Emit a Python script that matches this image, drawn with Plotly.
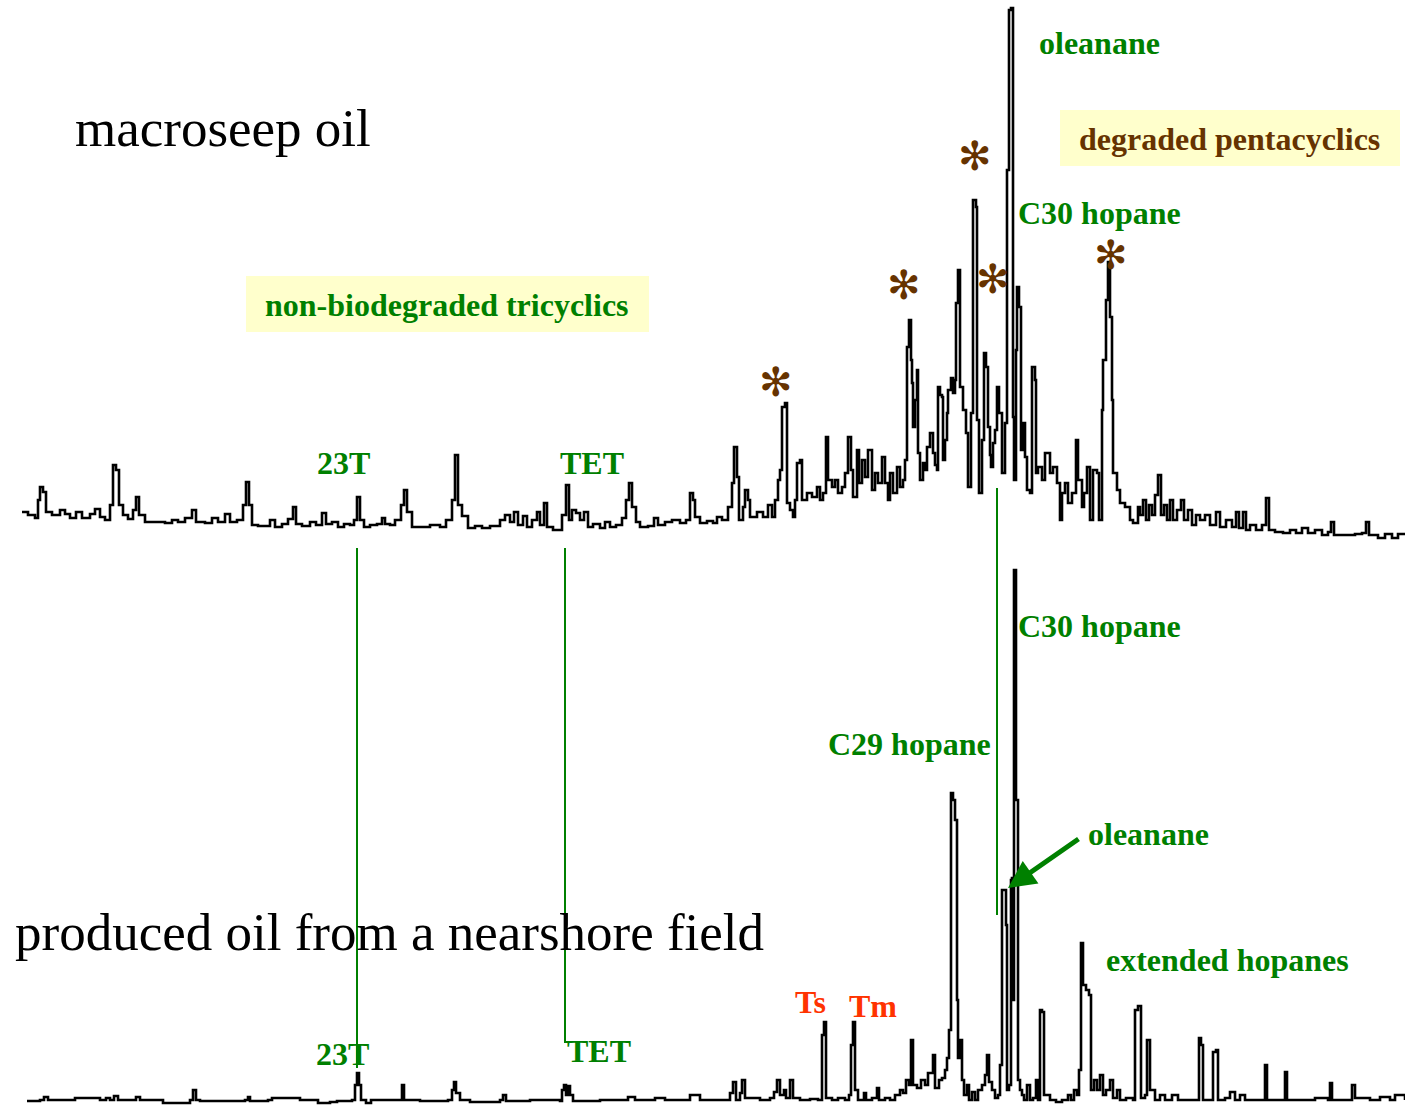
import plotly.graph_objects as go

# ---------------- data: retention positions and abundances ----------------
# macroseep oil (m/z 191 trace), abundance above its own baseline reference
seep_rt = [22, 28, 35, 38, 40, 43, 46, 52, 60, 65, 70, 76, 82, 90, 95, 100, 105, 110, 113, 116,
           119, 123, 128, 133, 136, 139, 145, 155, 165, 172, 178, 185, 192, 196, 205, 212, 218, 225, 230, 237,
           243, 246, 249, 252, 258, 264, 270, 275, 282, 288, 293, 296, 302, 310, 316, 322, 326, 332, 338, 344,
           350, 354, 357, 360, 364, 370, 377, 382, 385, 390, 395, 401, 404, 407, 412, 420, 430, 440, 446, 452,
           455, 458, 462, 468, 475, 482, 490, 500, 505, 510, 514, 518, 523, 527, 532, 537, 540, 544, 547, 553,
           558, 562, 566, 569, 572, 576, 580, 584, 588, 593, 600, 605, 610, 616, 622, 626, 629, 632, 636, 640,
           648, 654, 658, 665, 672,
           680, 686, 690, 693, 695, 700, 707, 713, 717, 722, 728, 732, 734, 737, 739, 743, 745, 748, 750, 757,
           763, 768, 772, 775, 778, 780, 782, 785, 787, 790, 793, 795, 797, 800, 802, 807, 812, 817, 820, 823,
           826, 828, 832, 835, 838, 842, 845, 848, 851, 853, 857, 859, 862, 865, 868, 872, 875, 878, 882, 885,
           888, 890, 893, 897, 900, 903, 905,
           907, 909, 911, 912, 913, 915, 917, 918, 920, 923, 925, 927, 930, 933, 935, 937, 938, 940, 942, 943,
           945, 947, 948, 951, 953, 955, 956, 958, 960, 963, 966, 968, 971, 973, 976, 977, 979, 982, 984, 986,
           988, 990, 991, 993, 995, 997, 999, 1002, 1005, 1007, 1009, 1011, 1013, 1014, 1016, 1017, 1019, 1021, 1023, 1025,
           1027, 1030, 1032, 1035, 1036, 1038, 1042, 1045, 1048, 1050, 1053, 1057, 1060, 1062, 1065, 1068, 1072, 1076, 1078, 1082,
           1084, 1087, 1090, 1093, 1097, 1099, 1102, 1103, 1106, 1108, 1110, 1112, 1113, 1117, 1120, 1125, 1130, 1133, 1138,
           1140, 1143, 1146, 1149, 1152, 1155, 1158, 1161, 1164, 1167, 1170, 1173, 1177, 1181, 1184, 1188, 1192, 1196, 1200, 1205,
           1210, 1216, 1220, 1226, 1232, 1236, 1239, 1243, 1246, 1250, 1256, 1262, 1266, 1269, 1275, 1283, 1290, 1296, 1302, 1308,
           1315, 1322, 1328, 1331, 1334, 1340, 1348, 1355, 1362, 1366, 1369, 1378, 1385, 1392, 1398, 1405]
seep_abund = [33, 30, 27, 45, 58, 53, 33, 30, 35, 31, 27, 33, 27, 31, 36, 28, 25, 40, 80, 75,
              40, 30, 26, 35, 48, 30, 23, 23, 22, 25, 23, 27, 35, 23, 22, 27, 23, 31, 23, 25,
              40, 63, 40, 20, 19, 19, 25, 18, 21, 26, 38, 21, 19, 23, 20, 32, 21, 23, 18, 21,
              20, 25, 48, 25, 18, 20, 21, 27, 21, 20, 25, 40, 55, 33, 18, 18, 20, 18, 25, 45,
              90, 40, 29, 17, 19, 17, 19, 25, 30, 23, 33, 20, 29, 18, 25, 33, 20, 42, 18, 15,
              15, 30, 60, 25, 35, 32, 25, 33, 18, 21, 17, 23, 18, 20, 27, 45, 62, 38, 23, 18,
              19, 27, 20, 23, 25,
              22, 25, 52, 45, 28, 22, 24, 22, 28, 25, 38, 62, 98, 68, 25, 38, 55, 45, 28, 33,
              28, 40, 28, 45, 65, 75, 138, 142, 42, 35, 28, 45, 82, 85, 45, 52, 48, 58, 45, 52,
              108, 65, 58, 65, 52, 58, 72, 108, 75, 48, 95, 62, 85, 68, 95, 55, 72, 62, 88, 62,
              45, 72, 52, 78, 58, 65, 85,
              198, 225, 185, 162, 118, 145, 175, 92, 65, 82, 75, 98, 112, 92, 80, 75, 158, 150, 148, 85,
              105, 132, 155, 167, 152, 165, 242, 275, 158, 135, 112, 58, 132, 345, 338, 125, 52, 105, 192, 178,
              118, 90, 78, 102, 115, 158, 132, 72, 122, 375, 535, 537, 128, 65, 195, 258, 238, 95, 122, 88,
              55, 52, 178, 165, 72, 78, 65, 92, 92, 72, 78, 62, 25, 52, 62, 42, 52, 105, 65, 38,
              52, 78, 25, 75, 72, 25, 135, 185, 245, 283, 228, 145, 72, 55, 42, 38, 25, 22, 38,
              30, 45, 25, 40, 30, 50, 70, 30, 40, 25, 45, 25, 35, 45, 25, 35, 20, 30, 25, 30,
              20, 33, 18, 25, 18, 33, 17, 33, 15, 20, 15, 20, 47, 15, 13, 12, 15, 12, 17, 12,
              15, 10, 13, 23, 10, 10, 10, 11, 12, 23, 10, 7, 11, 7, 11, 12]

# produced oil from a nearshore field (m/z 191 trace)
field_rt = [27, 40, 44, 48, 70, 75, 100, 106, 110, 114, 118, 132, 136, 140, 160, 163, 190, 193, 196, 200,
            245, 248, 250, 268, 272, 300, 315, 318, 330, 337, 352, 355, 357, 359, 361, 366, 371, 400, 402, 404,
            420, 448, 452, 454, 456, 460, 470, 500, 503, 506, 530, 560, 562, 564, 566, 568, 570, 573, 600, 625,
            628, 635, 650, 655, 665, 688, 690, 700, 728, 730, 733, 736, 740, 742, 745, 760, 770, 774, 777, 780,
            784, 786, 790, 793, 800, 810, 818, 822, 824, 826, 832, 838, 845, 849, 851, 853, 855, 858, 864, 866,
            872, 877, 879, 885, 890, 895, 900, 903, 906, 909, 911, 913, 917, 921, 925, 928, 933, 935, 939, 942,
            945, 947, 949, 951, 953, 955, 957, 958, 960, 962, 964, 967, 969, 972, 975, 978, 982, 985, 987, 989,
            992, 995, 998, 1000, 1002, 1004, 1006, 1007, 1009, 1011, 1012, 1013, 1014, 1016, 1018, 1020, 1022, 1024, 1027, 1030,
            1033, 1036, 1038, 1040, 1042, 1044, 1050, 1056, 1062, 1068, 1071, 1074, 1077, 1079, 1081, 1083, 1086, 1089, 1091, 1094,
            1097, 1100, 1103, 1106, 1110, 1113, 1117, 1120, 1126, 1133, 1135, 1138, 1141, 1145, 1147, 1150, 1155, 1160, 1165, 1172,
            1178, 1198, 1199, 1201, 1203, 1210, 1213, 1216, 1218, 1225, 1230, 1235, 1240, 1245, 1263, 1265, 1267, 1275, 1283, 1285,
            1287, 1310, 1315, 1328, 1330, 1332, 1350, 1352, 1355, 1370, 1380, 1390, 1395, 1405]
field_abund = [7, 8, 11, 8, 8, 10, 8, 10, 8, 12, 8, 8, 11, 8, 8, 5, 8, 18, 8, 7,
               8, 11, 7, 8, 10, 8, 8, 5, 6, 7, 8, 23, 35, 23, 8, 5, 8, 8, 23, 8,
               7, 8, 18, 26, 15, 8, 6, 8, 13, 7, 8, 7, 18, 23, 13, 22, 13, 7, 8, 8,
               11, 8, 8, 10, 8, 8, 13, 8, 8, 15, 26, 8, 15, 28, 10, 8, 10, 16, 28, 13,
               18, 10, 28, 10, 8, 9, 8, 73, 86, 10, 8, 10, 8, 13, 63, 86, 18, 8, 15, 8,
               10, 20, 8, 10, 8, 13, 18, 15, 28, 23, 68, 23, 20, 28, 23, 35, 53, 20, 28, 30,
               38, 50, 78, 315, 308, 288, 108, 50, 68, 28, 13, 23, 8, 16, 8, 18, 23, 33, 53, 26,
               18, 10, 13, 43, 218, 218, 183, 18, 23, 228, 230, 108, 538, 308, 28, 18, 13, 8, 23, 8,
               10, 28, 8, 98, 96, 13, 8, 6, 8, 13, 8, 18, 13, 38, 165, 123, 118, 113, 18, 28,
               18, 33, 13, 18, 28, 10, 18, 8, 10, 8, 98, 102, 10, 13, 68, 18, 8, 13, 8, 13,
               8, 8, 70, 63, 8, 8, 56, 58, 8, 10, 16, 8, 13, 8, 8, 43, 8, 8, 8, 36,
               8, 8, 10, 8, 25, 8, 8, 23, 10, 8, 11, 8, 13, 8]

# compound correlation markers (retention positions)
corr_names = ["23T", "TET", "C30 hopane"]
corr_rt = [357, 565, 997]
star_rt = [776, 904, 975, 993, 1111]   # degraded pentacyclics (asterisks)

# ---------------- layout constants ----------------
SEEP_BASE = 545     # vertical offset of upper trace
FIELD_BASE = 1108   # vertical offset of lower trace
GREEN = "#008000"
BROWN = "#663300"
RED = "#FF3300"
YELLOW = "#FFFFCC"
SERIF = "Liberation Serif, Times New Roman, serif"

fig = go.Figure()
fig.add_trace(go.Scatter(x=seep_rt, y=[SEEP_BASE - a for a in seep_abund], mode="lines",
                         line=dict(color="black", width=2.6, shape="hv"), hoverinfo="skip"))
fig.add_trace(go.Scatter(x=field_rt, y=[FIELD_BASE - a for a in field_abund], mode="lines",
                         line=dict(color="black", width=2.6, shape="hv"), hoverinfo="skip"))

shapes = []
# yellow boxes
shapes.append(dict(type="rect", xref="x", yref="y", x0=246, x1=649, y0=276, y1=332,
                   fillcolor=YELLOW, line=dict(width=0), layer="below"))
shapes.append(dict(type="rect", xref="x", yref="y", x0=1060, x1=1400, y0=110, y1=166,
                   fillcolor=YELLOW, line=dict(width=0), layer="below"))
# correlation lines
shapes.append(dict(type="line", xref="x", yref="y", x0=corr_rt[0], x1=corr_rt[0], y0=548, y1=1068,
                   line=dict(color=GREEN, width=2)))
shapes.append(dict(type="path", xref="x", yref="y",
                   path=f"M {corr_rt[1]} 548 L {corr_rt[1]} 1042 L {corr_rt[1] + 6} 1042",
                   line=dict(color=GREEN, width=2)))
shapes.append(dict(type="line", xref="x", yref="y", x0=corr_rt[2], x1=corr_rt[2], y0=488, y1=915,
                   line=dict(color=GREEN, width=2)))

ann = []


def label(text, x, y, color, size=32, xanchor="left", bold=True, family=SERIF):
    ann.append(dict(text=(f"<b>{text}</b>" if bold else text), x=x, y=y, xref="x", yref="y",
                    xanchor=xanchor, yanchor="middle", showarrow=False,
                    font=dict(family=family, size=size, color=color)))


# sample names
label("macroseep oil", 73, 128, "black", size=53, bold=False)
label("produced oil from a nearshore field", 13, 932, "black", size=53, bold=False)
# upper annotations
label("oleanane", 1037, 43, GREEN)
label("degraded pentacyclics", 1229, 139, BROWN, xanchor="center")
label("C30 hopane", 1016, 213, GREEN)
label("non-biodegraded tricyclics", 447, 305, GREEN, xanchor="center")
label("23T", 343, 463, GREEN, xanchor="center")
label("TET", 592, 463, GREEN, xanchor="center")
# lower annotations
label("C30 hopane", 1016, 626, GREEN)
label("C29 hopane", 826, 744, GREEN)
label("oleanane", 1086, 834, GREEN)
label("extended hopanes", 1104, 960, GREEN)
label("Ts", 793, 1002, RED)
label("Tm", 847, 1006, RED)
label("23T", 342, 1054, GREEN, xanchor="center")
label("TET", 565, 1051, GREEN)
# asterisks over degraded peaks
star_y = [382, 285, 156, 279, 255]
for sx, sy in zip(star_rt, star_y):
    ann.append(dict(text="\u273B", x=sx, y=sy, xref="x", yref="y", showarrow=False,
                    xanchor="center", yanchor="middle",
                    font=dict(family="DejaVu Sans", size=40, color=BROWN)))
# arrow to oleanane in produced oil
ann.append(dict(text="", x=1008, y=888, ax=1080, ay=838, xref="x", yref="y", axref="x", ayref="y",
                showarrow=True, arrowhead=2, arrowsize=1.1, arrowwidth=5, arrowcolor=GREEN))

fig.update_layout(
    width=1405, height=1108,
    margin=dict(l=0, r=0, t=0, b=0),
    paper_bgcolor="white", plot_bgcolor="white",
    showlegend=False,
    xaxis=dict(range=[0, 1405], visible=False, fixedrange=True),
    yaxis=dict(range=[1108, 0], visible=False, fixedrange=True),
    shapes=shapes, annotations=ann,
)
fig.write_html("out.html")
